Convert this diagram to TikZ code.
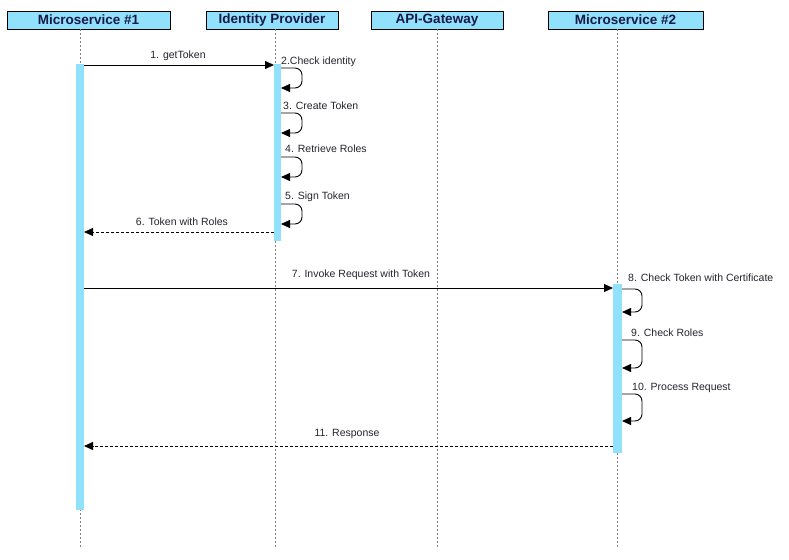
\documentclass[tikz,border=0pt]{standalone}
\usepackage{fontspec}
\setmainfont{Liberation Sans}
\usetikzlibrary{arrows.meta}

\definecolor{barblue}{RGB}{145,224,252}
\definecolor{headtext}{RGB}{25,25,70}
\definecolor{msgtext}{RGB}{35,35,45}

\tikzset{
    head/.style={draw=black, line width=0.9pt, fill=barblue, minimum height=18pt,
        inner sep=0pt, text=headtext, font=\bfseries\fontsize{13.5}{13.5}\selectfont},
    actbar/.style={fill=barblue, draw=none, minimum width=8pt, inner sep=0pt},
    life/.style={gray, line width=0.7pt, dash pattern=on 2pt off 2pt},
    msg/.style={-{Triangle[length=9pt,width=8pt]}, line width=0.9pt},
    reply/.style={msg, dash pattern=on 3pt off 2pt},
    selfmsg/.style={msg, rounded corners=7pt},
    lbl/.style={inner sep=0pt, text=msgtext, font=\fontsize{10.5}{12}\selectfont}
}

\begin{document}
\begin{tikzpicture}[x=1pt, y=-1pt]
    \useasboundingbox (0,0) rectangle (789,559);

    % Participants
    \node[head, minimum width=163pt] (ms1) at (88.5,20) {Microservice \#1};
    \node[head, minimum width=132pt] (idp) at (272,20) {Identity Provider};
    \node[head, minimum width=132pt] (gw)  at (437,20) {API-Gateway};
    \node[head, minimum width=155pt] (ms2) at (625.5,20) {Microservice \#2};

    % Lifelines
    \coordinate (ms1end) at (80,548);
    \coordinate (idpend) at (275.5,548);
    \coordinate (gwend)  at (437,548);
    \coordinate (ms2end) at (617,548);
    \draw[life] (ms1.south -| ms1end) -- (ms1end);
    \draw[life] (idp.south -| idpend) -- (idpend);
    \draw[life] (gw.south -| gwend) -- (gwend);
    \draw[life] (ms2.south -| ms2end) -- (ms2end);

    % Activation bars
    \node[actbar, minimum height=446pt] (bar1) at (80,287) {};
    \node[actbar, minimum width=7pt, minimum height=177pt] (bar2) at (277.5,152.5) {};
    \node[actbar, minimum width=9pt, minimum height=169pt] (bar3) at (617.5,368.5) {};

    % 1. getToken
    \coordinate (m1a) at (84,65);
    \coordinate (m1b) at (274,65);
    \draw[msg] (m1a) -- (m1b);
    \node[lbl] (l1) at (178,56) {1. getToken};

    % Self calls at the identity provider
    \coordinate (s2a) at (281,68);  \coordinate (s2b) at (281,88);
    \coordinate (s3a) at (281,113); \coordinate (s3b) at (281,133);
    \coordinate (s4a) at (281,157); \coordinate (s4b) at (281,177);
    \coordinate (s5a) at (281,204); \coordinate (s5b) at (281,224);
    \draw[selfmsg] (s2a) -- ++(21,0) |- (s2b);
    \draw[selfmsg] (s3a) -- ++(21,0) |- (s3b);
    \draw[selfmsg] (s4a) -- ++(21,0) |- (s4b);
    \draw[selfmsg] (s5a) -- ++(21,0) |- (s5b);
    \node[lbl, anchor=west] (l2) at (281,62) {2.Check identity};
    \node[lbl, anchor=west] (l3) at (283,106) {3. Create Token};
    \node[lbl, anchor=west] (l4) at (285,149) {4. Retrieve Roles};
    \node[lbl, anchor=west] (l5) at (285,197) {5. Sign Token};

    % 6. Token with Roles
    \coordinate (m6a) at (274,232);
    \coordinate (m6b) at (84,232);
    \draw[reply] (m6a) -- (m6b);
    \node[lbl] (l6) at (182,222) {6. Token with Roles};

    % 7. Invoke Request with Token
    \coordinate (m7a) at (84,288);
    \coordinate (m7b) at (613,288);
    \draw[msg] (m7a) -- (m7b);
    \node[lbl] (l7) at (361,275) {7. Invoke Request with Token};

    % Self calls at microservice 2
    \coordinate (s8a) at (622,289);  \coordinate (s8b) at (622,312);
    \coordinate (s9a) at (622,340);  \coordinate (s9b) at (622,368);
    \coordinate (s10a) at (622,394); \coordinate (s10b) at (622,421);
    \draw[selfmsg] (s8a) -- ++(20,0) |- (s8b);
    \draw[selfmsg] (s9a) -- ++(20,0) |- (s9b);
    \draw[selfmsg] (s10a) -- ++(20,0) |- (s10b);
    \node[lbl, anchor=west] (l8) at (628,278) {8. Check Token with Certificate};
    \node[lbl, anchor=west] (l9) at (631,333) {9. Check Roles};
    \node[lbl, anchor=west] (l10) at (632,388) {10. Process Request};

    % 11. Response
    \coordinate (m11a) at (613,446);
    \coordinate (m11b) at (84,446);
    \draw[reply] (m11a) -- (m11b);
    \node[lbl] (l11) at (347,434) {11. Response};
\end{tikzpicture}
\end{document}
